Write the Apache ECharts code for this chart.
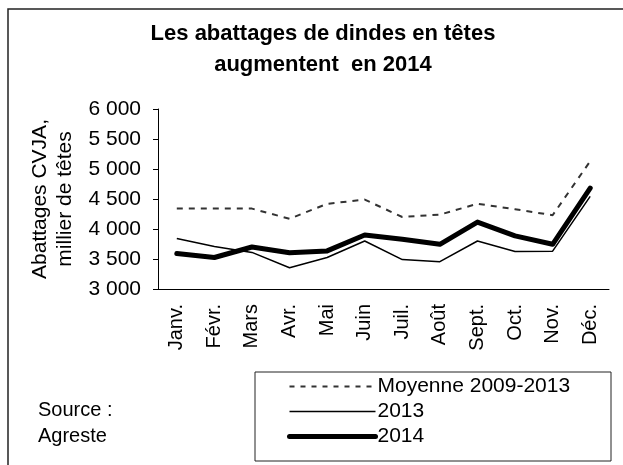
<!DOCTYPE html>
<html>
<head>
<meta charset="utf-8">
<script src="https://cdn.jsdelivr.net/npm/echarts@6/dist/echarts.min.js"></script>
<style>
html, body { margin: 0; padding: 0; background: #fff; }
#chart { width: 623px; height: 465px; }
</style>
</head>
<body>
<div id="chart"></div>
<script>
var months = ['Janv.', 'Févr.', 'Mars', 'Avr.', 'Mai', 'Juin', 'Juil.', 'Août', 'Sept.', 'Oct.', 'Nov.', 'Déc.'];
var moyenne = [4340, 4340, 4340, 4170, 4420, 4490, 4200, 4240, 4420, 4330, 4230, 5130];
var abat2013 = [3840, 3710, 3610, 3355, 3525, 3800, 3490, 3455, 3800, 3625, 3630, 4545];
var abat2014 = [3590, 3525, 3700, 3605, 3635, 3900, 3830, 3745, 4115, 3885, 3745, 4680];
var yTicks = [3000, 3500, 4000, 4500, 5000, 5500, 6000];

var font = "'Liberation Sans', Arial, sans-serif";

var myChart = echarts.init(document.getElementById('chart'));

// nombre avec espace comme séparateur des milliers
function fmt(v) {
    var s = String(v);
    return s.slice(0, s.length - 3) + ' ' + s.slice(s.length - 3);
}

myChart.setOption({
    animation: false,
    textStyle: { fontFamily: font, color: '#000' },
    title: {
        text: 'Les abattages de dindes en têtes\naugmentent  en 2014',
        left: 318,
        top: 13,
        textAlign: 'center',
        textStyle: { fontFamily: font, fontSize: 22, fontWeight: 'bold', color: '#000', lineHeight: 31 }
    },
    graphic: [{
        type: 'rect',
        shape: { x: 8, y: 9, width: 700, height: 500 },
        style: { fill: 'none', stroke: '#222', lineWidth: 1.5 },
        z: -1
    }, {
        type: 'rect',
        shape: { x: 255, y: 372, width: 356, height: 89 },
        style: { fill: '#fff', stroke: '#222', lineWidth: 1 },
        z: 0
    }, {
        type: 'text',
        left: 38,
        top: 397,
        style: { text: 'Source :\nAgreste', font: '20px ' + font, fill: '#000', lineHeight: 26 }
    }],
    legend: {
        orient: 'vertical',
        left: 287,
        top: 376,
        itemWidth: 86,
        itemHeight: 21,
        itemGap: 4,
        padding: 0,
        z: 5,
        itemStyle: { opacity: 0 },
        textStyle: { fontFamily: font, fontSize: 21, color: '#000', lineHeight: 21, padding: [0, 0, 0, -3] },
        data: [
            { name: 'Moyenne 2009-2013', lineStyle: { width: 2, type: [5, 6], color: '#333' } },
            { name: '2013', lineStyle: { width: 1.5, color: '#000' } },
            { name: '2014', lineStyle: { width: 5, color: '#000', cap: 'round' } }
        ]
    },
    grid: {
        left: 158,
        right: 14,
        top: 109,
        bottom: 176
    },
    xAxis: {
        type: 'category',
        data: months,
        boundaryGap: true,
        axisLine: { lineStyle: { color: '#000', width: 1 } },
        axisTick: { length: 8, lineStyle: { color: '#000' } },
        axisLabel: { rotate: 90, margin: 15, fontSize: 20, color: '#000', fontFamily: font, interval: 0 }
    },
    yAxis: {
        type: 'value',
        min: yTicks[0],
        max: yTicks[yTicks.length - 1],
        interval: 500,
        name: 'Abattages CVJA,\nmillier de têtes',
        nameLocation: 'middle',
        nameRotate: 90,
        nameGap: 78,
        nameTextStyle: { fontFamily: font, fontSize: 21, color: '#000', lineHeight: 25 },
        splitLine: { show: false },
        axisLine: { show: true, lineStyle: { color: '#000', width: 1 } },
        axisTick: { show: true, length: 5, lineStyle: { color: '#000' } },
        axisLabel: { margin: 17, fontSize: 21, color: '#000', fontFamily: font, formatter: fmt }
    },
    series: [{
        name: 'Moyenne 2009-2013',
        type: 'line',
        data: moyenne,
        symbol: 'none',
        lineStyle: { color: '#333', width: 2, type: [6, 6] }
    }, {
        name: '2013',
        type: 'line',
        data: abat2013,
        symbol: 'none',
        lineStyle: { color: '#000', width: 1.5 }
    }, {
        name: '2014',
        type: 'line',
        data: abat2014,
        symbol: 'none',
        lineStyle: { color: '#000', width: 5, cap: 'round', join: 'round' }
    }]
});
</script>
</body>
</html>
